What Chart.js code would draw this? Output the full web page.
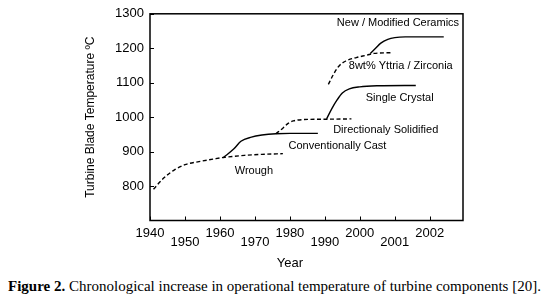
<!DOCTYPE html>
<html>
<head>
<meta charset="utf-8">
<script src="https://cdn.jsdelivr.net/npm/chart.js@4"></script>
<style>
  body { margin: 0; background: #fff; }
  #wrap { position: relative; width: 555px; height: 300px; }
  #chart { position: absolute; left: 0; top: 0; }
  .caption {
    position: absolute; left: 8px; top: 278px;
    font-family: "Liberation Serif", "Times New Roman", serif;
    font-size: 15px; color: #000; white-space: nowrap;
  }
</style>
</head>
<body>
<div id="wrap">
  <canvas id="chart" width="555" height="275"></canvas>
  <div class="caption"><b>Figure 2.</b> Chronological increase in operational temperature of turbine components [20].</div>
</div>
<script>
// axis ticks (the original labels the last two ticks 2001 / 2002)
const tickYears = [1940, 1950, 1960, 1970, 1980, 1990, 2000, 2010, 2020];
const tickLabels = ["1940", "1950", "1960", "1970", "1980", "1990", "2000", "2001", "2002"];
const tempTicks = [800, 900, 1000, 1100, 1200, 1300];

// curves
const wroughYears = [1941, 1944, 1947, 1950, 1954, 1958, 1961, 1967, 1972, 1978];
const wroughTemps = [791, 824, 847, 862, 871, 878, 883, 889, 892, 894];

const castYears = [1961, 1964, 1966, 1969, 1972, 1976, 1980, 1988];
const castTemps = [883, 908, 930, 942, 948, 952, 953, 953];

const dirSolYears = [1976, 1978, 1979.5, 1981, 1984, 1990, 1997.6];
const dirSolTemps = [952, 968, 982, 989, 993, 994, 995];

const crystalYears = [1990.5, 1992, 1993.5, 1995, 1997, 2000, 2005, 2016];
const crystalTemps = [995, 1025, 1050, 1070, 1082, 1088, 1091, 1092];

const yttriaYears = [1991, 1992.5, 1994, 1996, 1999, 2002, 2004, 2009];
const yttriaTemps = [1095, 1125, 1148, 1163, 1173, 1180, 1185, 1187];

const ceramicYears = [2003, 2004.5, 2006, 2008, 2010, 2013, 2024];
const ceramicTemps = [1185, 1200, 1215, 1226, 1231, 1233, 1233];

// text notes, anchored in data units
const noteTexts = ["New / Modified Ceramics", "8wt% Yttria / Zirconia", "Single Crystal",
                   "Directionaly Solidified", "Conventionally Cast", "Wrough"];
const noteYears = [2010.9, 2011.7, 2011.4, 2007.4, 1993.6, 1969.7];
const noteTemps = [1272, 1149, 1057, 964, 916, 845];

const font = '"Liberation Sans", Arial, sans-serif';
Chart.defaults.font.family = font;
Chart.defaults.color = "#000";

function line(years, temps, dashed) {
  return {
    data: years.map((x, i) => ({ x: x, y: temps[i] })),
    borderColor: "#000",
    borderWidth: 1.4,
    borderDash: dashed ? [4, 2.5] : [],
    pointRadius: 0,
    cubicInterpolationMode: "monotone",
    fill: false
  };
}

const frame = {
  id: "frame",
  afterDatasetsDraw(chart) {
    const { ctx, chartArea: a, scales } = chart;
    const x = scales.x, y = scales.y;
    ctx.save();
    ctx.strokeStyle = "#000";
    ctx.lineWidth = 1.5;
    ctx.strokeRect(a.left, a.top, a.right - a.left, a.bottom - a.top);

    // small inward tick marks
    ctx.lineWidth = 1;
    ctx.beginPath();
    tickYears.forEach(v => {
      const px = Math.round(x.getPixelForValue(v)) + 0.5;
      ctx.moveTo(px, a.bottom);
      ctx.lineTo(px, a.bottom - 4);
    });
    tempTicks.forEach(v => {
      const py = Math.round(y.getPixelForValue(v)) + 0.5;
      ctx.moveTo(a.left, py);
      ctx.lineTo(a.left + 4, py);
    });
    ctx.stroke();

    ctx.fillStyle = "#000";
    ctx.textAlign = "center";
    ctx.textBaseline = "middle";
    ctx.font = "11px " + font;
    noteTexts.forEach((t, i) => {
      ctx.fillText(t, x.getPixelForValue(noteYears[i]), y.getPixelForValue(noteTemps[i]));
    });

    // x axis title centred under the labelled ticks
    ctx.font = "13px " + font;
    const mid = (x.getPixelForValue(tickYears[0]) + x.getPixelForValue(tickYears[tickYears.length - 1])) / 2;
    ctx.fillText("Year", mid, 263);
    ctx.restore();
  }
};

new Chart(document.getElementById("chart"), {
  type: "line",
  data: {
    datasets: [
      line(wroughYears, wroughTemps, true),
      line(castYears, castTemps, false),
      line(dirSolYears, dirSolTemps, true),
      line(crystalYears, crystalTemps, false),
      line(yttriaYears, yttriaTemps, true),
      line(ceramicYears, ceramicTemps, false)
    ]
  },
  options: {
    responsive: false,
    animation: false,
    layout: { padding: { left: 75, top: 8, right: 92, bottom: 0 } },
    plugins: { legend: { display: false }, tooltip: { enabled: false } },
    scales: {
      x: {
        type: "linear",
        min: 1940,
        max: 2029.5,
        afterBuildTicks: s => { s.ticks = tickYears.map(v => ({ value: v })); },
        afterFit: s => { s.height = 54.5; },
        grid: { display: false, drawTicks: false },
        border: { display: false },
        ticks: {
          autoSkip: false,
          maxRotation: 0,
          padding: 8,
          font: { size: 13, lineHeight: 0.7 },
          callback: v => {
            const i = tickYears.indexOf(v);
            return i % 2 ? ["", tickLabels[i]] : [tickLabels[i]];
          }
        }
      },
      y: {
        min: 700,
        max: 1300,
        afterBuildTicks: s => { s.ticks = tempTicks.map(v => ({ value: v })); },
        afterFit: s => { s.width = 75; },
        grid: { display: false, drawTicks: false },
        border: { display: false },
        ticks: { padding: 6, font: { size: 13 }, callback: v => String(v) },
        title: {
          display: true,
          text: "Turbine Blade Temperature ºC",
          font: { size: 12 },
          padding: { top: 8, bottom: 0 }
        }
      }
    }
  },
  plugins: [frame]
});
</script>
</body>
</html>
